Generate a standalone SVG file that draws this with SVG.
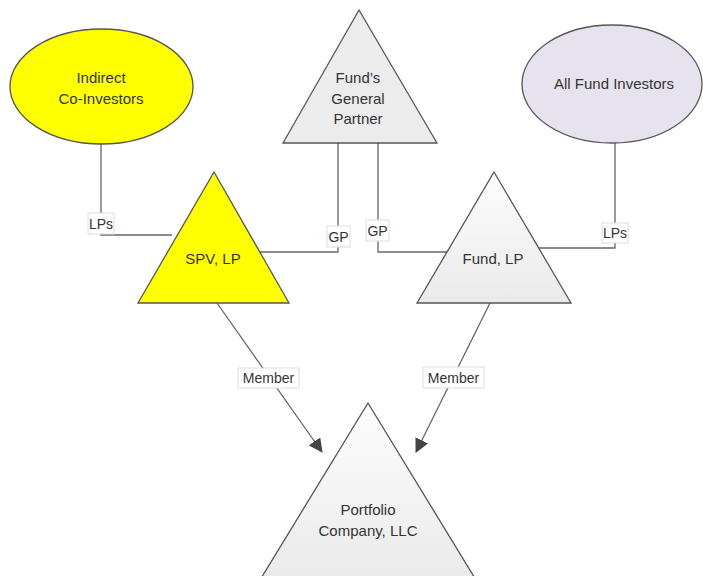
<svg xmlns="http://www.w3.org/2000/svg" width="703" height="576" viewBox="0 0 703 576">
<style>
.lbl{font-family:"Liberation Sans",Arial,sans-serif;font-size:15px;fill:#333;text-anchor:middle;dominant-baseline:central}
.tl{font-size:14px}
.shape{stroke:#555;stroke-width:1.3}
.conn{fill:none;stroke:#666;stroke-width:1.3}
.tag{fill:#fff;stroke:#ddd;stroke-width:1}
</style>
<defs>
<linearGradient id="g" x1="0" y1="0" x2="0" y2="1">
<stop offset="0" stop-color="#fdfdfd"/>
<stop offset="1" stop-color="#eaeaea"/>
</linearGradient>
<marker id="arr" markerWidth="14" markerHeight="14" refX="13" refY="7" orient="auto" markerUnits="userSpaceOnUse">
<path d="M0,0 L14,7 L0,14 z" fill="#444"/>
</marker>
</defs>
<rect width="703" height="576" fill="#fff"/>
<g id="connectors">
<polyline class="conn" points="101,144 101,235 172,235"/>
<polyline class="conn" points="338,143 338,252 260,252"/>
<polyline class="conn" points="378,143 378,252 447,252"/>
<polyline class="conn" points="615,143 615,248 539,248"/>
<line class="conn" x1="217" y1="303" x2="322" y2="452" marker-end="url(#arr)"/>
<line class="conn" x1="490" y1="303" x2="416" y2="452" marker-end="url(#arr)"/>
<g id="label-lps-left"><rect class="tag" x="88" y="213" width="26" height="21"/><text class="lbl tl" x="101" y="223.5">LPs</text></g>
<g id="label-gp-left"><rect class="tag" x="327" y="226" width="23" height="21"/><text class="lbl tl" x="338.5" y="236.5">GP</text></g>
<g id="label-gp-right"><rect class="tag" x="366" y="220" width="23" height="21"/><text class="lbl tl" x="377.5" y="230.5">GP</text></g>
<g id="label-lps-right"><rect class="tag" x="602" y="223" width="26" height="20"/><text class="lbl tl" x="615" y="233">LPs</text></g>
<g id="label-member-left"><rect class="tag" x="238" y="368" width="61" height="20"/><text class="lbl tl" x="268.5" y="378">Member</text></g>
<g id="label-member-right"><rect class="tag" x="423" y="367" width="61" height="21"/><text class="lbl tl" x="453.5" y="377.5">Member</text></g>
</g>
<g id="indirect-co-investors">
<ellipse class="shape" cx="101.5" cy="86.5" rx="91.5" ry="57.5" fill="#ffff00"/>
<text class="lbl" x="101" y="77">Indirect</text>
<text class="lbl" x="101" y="98">Co-Investors</text>
</g>
<g id="funds-general-partner">
<polygon class="shape" points="359,10 437,143 283,143" fill="#ececec"/>
<text class="lbl" x="358" y="77">Fund’s</text>
<text class="lbl" x="358" y="98">General</text>
<text class="lbl" x="358" y="118">Partner</text>
</g>
<g id="all-fund-investors">
<ellipse class="shape" cx="612" cy="84" rx="90" ry="59" fill="#e6e3ee"/>
<text class="lbl" x="614" y="83">All Fund Investors</text>
</g>
<g id="spv-lp">
<polygon class="shape" points="214,172 289,303 138,303" fill="#ffff00"/>
<text class="lbl" x="213" y="258">SPV, LP</text>
</g>
<g id="fund-lp">
<polygon class="shape" points="494,172 571,303 417,303" fill="url(#g)"/>
<text class="lbl" x="493" y="258">Fund, LP</text>
</g>
<g id="portfolio-company">
<polygon class="shape" points="368,403 476,580 260,580" fill="url(#g)"/>
<text class="lbl" x="368" y="509">Portfolio</text>
<text class="lbl" x="368" y="530">Company, LLC</text>
</g>
</svg>
